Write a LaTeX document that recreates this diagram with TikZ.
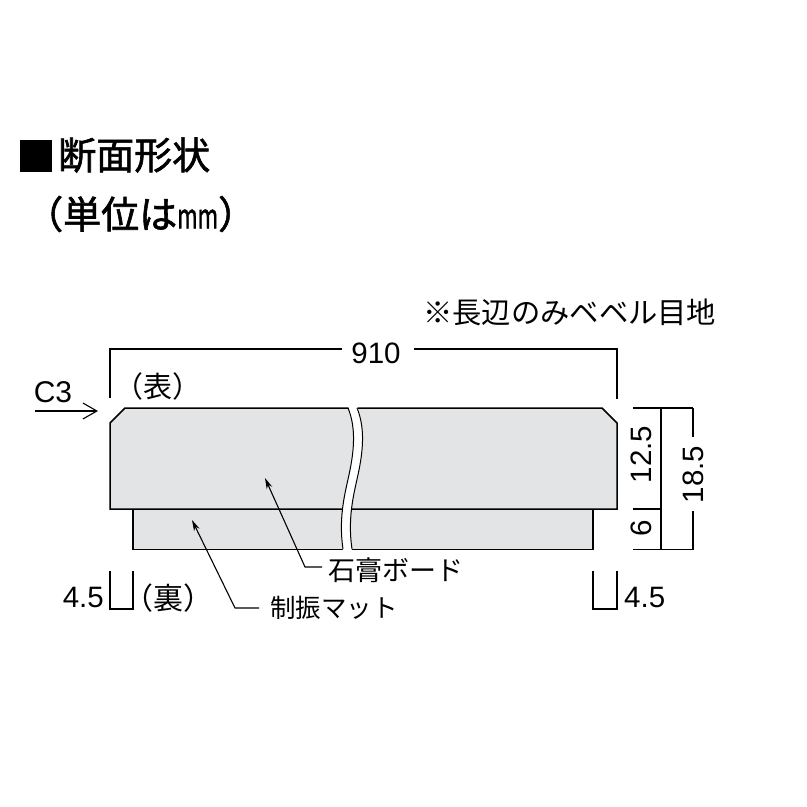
\documentclass[tikz,border=0pt]{standalone}
\usepackage{fontspec}
\setmainfont{Liberation Sans}
\newfontfamily\cjk{Noto Sans CJK JP}
\newfontfamily\cjkm[RawFeature={embolden=1.6}]{Noto Sans CJK JP}
\usetikzlibrary{arrows.meta}
\definecolor{boardgray}{HTML}{E3E4E6}
\tikzset{
  x=1pt,y=-1pt,
  part/.style={fill=boardgray,draw=black,line width=1.5pt,line join=miter},
  dim/.style={draw=black,line width=1.1pt},
  num/.style={inner sep=0pt,font=\fontsize{29.5}{29.5}\selectfont},
  jp/.style={inner sep=0pt,font=\cjk\fontsize{#1}{#1}\selectfont},
  jp/.default=26,
  leader/.style={draw=black,line width=1.1pt,-{Stealth[length=11pt,width=6pt]}},
  pointer/.style={draw=black,line width=1.1pt,-{Straight Barb[length=14pt,width=16pt,line width=1.1pt]}}
}
\begin{document}
\begin{tikzpicture}
\useasboundingbox (0,0) rectangle (807,807);
% title
\node[fill=black,minimum width=32pt,minimum height=32pt,inner sep=0pt] (sq) at (36,156) {};
\node[anchor=west,inner sep=0pt,font=\cjkm\fontsize{38}{38}\selectfont] (title) at (58,155) {断面形状};
\node[anchor=west,inner sep=0pt,font=\cjkm\fontsize{38}{38}\selectfont] (unit) at (25,214) {（単位は\scalebox{0.65}[1]{\fontsize{34}{34}\selectfont mm}）};
\node[jp=29.3,anchor=west] (note) at (423,312) {※長辺のみベベル目地};
% parts
\path[part] (133,509) -- (133,549.5) -- (593,549.5) -- (593,509) -- cycle;
\path[part] (125,408) -- (110,423) -- (110,509) -- (617,509) -- (617,423) -- (602,408) -- cycle;
% break
\fill[white] (348,406) .. controls (355,425) and (355,445) .. (350,470)
  .. controls (346,490) and (338,515) .. (343,551)
  -- (352,551) .. controls (347,515) and (355,490) .. (359,470)
  .. controls (364,445) and (364,425) .. (357,406) -- cycle;
\draw[line width=1pt] (348,408) .. controls (355,425) and (355,445) .. (350,470)
  .. controls (346,490) and (338,515) .. (343,549);
\draw[line width=1pt] (357,408) .. controls (364,425) and (364,445) .. (359,470)
  .. controls (355,490) and (347,515) .. (352,549);
% 910
\node[num] (w) at (376,353) {910};
\coordinate (wl) at (110,398);
\coordinate (wr) at (617,399);
\draw[dim] (wl) |- ([xshift=-9pt]w.west |- 0,349);
\draw[dim] (wr) |- ([xshift=13pt]w.east |- 0,349);
% C3
\node[num,font=\fontsize{30}{30}\selectfont] (c3) at (53,392) {C3};
\coordinate (ca) at (35,411);
\coordinate (cb) at (98,411);
\draw[pointer] (ca) -- (cb);
\node[jp=29] (front) at (158,386) {（表）};
\node[jp=30] (back) at (168,598) {（裏）};
% right dims
\coordinate (t0) at (633,408); \coordinate (t1) at (693,408);
\coordinate (m0) at (633,509); \coordinate (m1) at (661,509);
\coordinate (b0) at (633,549.5); \coordinate (b1) at (693,549.5);
\draw[dim] (t0) -- (t1);
\draw[dim] (b0) -- (b1);
\draw[dim] (m0) -- (m1);
\draw[dim] (661,408) -- (661,549.5);
\node[num,rotate=90] (d125) at (641,454.5) {12.5};
\node[num,rotate=90] (d6) at (641,528) {6};
\node[num,rotate=90] (d185) at (693,474.5) {18.5};
\draw[dim] (t1) -- ([yshift=9pt]d185.east);
\draw[dim] (b1) -- ([yshift=-8pt]d185.west);
% 4.5
\draw[dim] (110,571) -- (110,609) -- (133,609) -- (133,571);
\draw[dim] (593,571) -- (593,609) -- (617,609) -- (617,571);
\node[num,anchor=east] (l45) at (104,597) {4.5};
\node[num,anchor=west] (r45) at (624,597) {4.5};
% leaders
\node[jp=27,anchor=west] (gyp) at (328,570) {石膏ボード};
\node[jp=25.5,anchor=west] (mat) at (270,608) {制振マット};
\coordinate (gt) at (265,478);
\coordinate (gk) at (305,567);
\coordinate (mt) at (192,520);
\coordinate (mk) at (235,608);
\draw[leader] ([xshift=-6pt]gyp.west |- gk) -- (gk) -- (gt);
\draw[leader] ([xshift=-11pt]mat.west |- mk) -- (mk) -- (mt);
\end{tikzpicture}
\end{document}
